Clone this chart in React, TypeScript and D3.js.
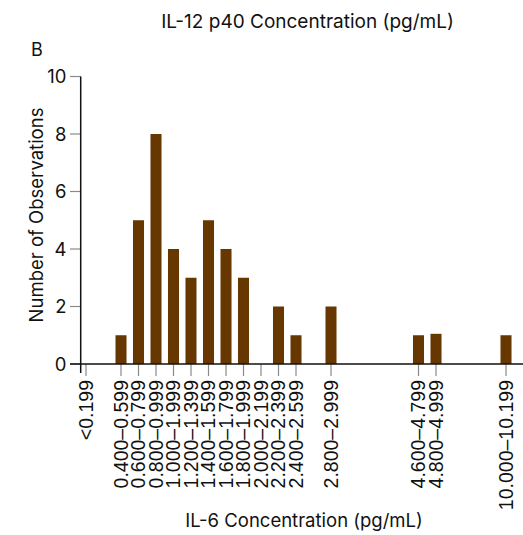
import React from 'react';
import * as d3 from 'd3';

// Bin slots along the x axis ('' = unlabelled spacer slot)
const categories: string[] = [
  '<0.199', '', '0.400–0.599', '0.600–0.799', '0.800–0.999', '1.000–1.999',
  '1.200–1.399', '1.400–1.599', '1.600–1.799', '1.800–1.999', '2.000–2.199',
  '2.200–2.399', '2.400–2.599', '', '2.800–2.999', '', '', '', '',
  '4.600–4.799', '4.800–4.999', '', '', '', '10.000–10.199',
];
const counts: number[] = [
  0, 0, 1, 5, 8, 4,
  3, 5, 4, 3, 0,
  2, 1, 0, 2, 0, 0, 0, 0,
  1, 1.05, 0, 0, 0, 1,
];
const yTicks: number[] = [0, 2, 4, 6, 8, 10];

const title = 'IL-12 p40 Concentration (pg/mL)';
const panel = 'B';
const xTitle = 'IL-6 Concentration (pg/mL)';
const yTitle = 'Number of Observations';

export default function App() {
  const W = 523, H = 535;
  const keys = categories.map((_, i) => String(i));
  const x = d3.scaleBand<string>().domain(keys).range([77.25, 514.75])
    .paddingInner(0.37).paddingOuter(0.185);
  const y = d3.scaleLinear().domain([0, 10]).range([364, 76.5]);
  const axisX = 80.7;
  const sans = 'Inter, "Noto Sans", sans-serif';
  const tickFont = '"Liberation Sans", Arial, sans-serif';
  const barColor = '#663800';
  const tickColor = '#8a8a8a';

  return (
    <svg width={W} height={H} style={{ position: 'absolute', left: 0, top: 0 }}
      fontFamily={sans}>
      <rect width={W} height={H} fill="#fff" />
      <text x={307.5} y={28} textAnchor="middle" fontSize={19} fill="#111">{title}</text>
      <text x={31} y={55.5} fontSize={18} fill="#111">{panel}</text>

      {/* bars */}
      {counts.map((c, i) => c > 0 ? (
        <rect key={i} x={x(keys[i])} y={y(c)} width={x.bandwidth()}
          height={y(0) - y(c)} fill={barColor} />
      ) : null)}

      {/* y axis */}
      {yTicks.map(t => (
        <g key={t}>
          <line x1={70} x2={axisX} y1={y(t)} y2={y(t)} stroke={tickColor} strokeWidth={1.2} />
          <text x={66.5} y={y(t)} dy="0.36em" textAnchor="end" fontSize={18.5} fill="#111">{t}</text>
        </g>
      ))}
      <line x1={axisX} x2={axisX} y1={y(10)} y2={373} stroke="#111" strokeWidth={1.5} />

      {/* x axis */}
      {categories.map((c, i) => c ? (
        <g key={i} transform={`translate(${(x(keys[i]) as number) + x.bandwidth() / 2},0)`}>
          <line x1={0} x2={0} y1={364} y2={376} stroke={tickColor} strokeWidth={1.2} />
          <text transform="translate(0,380) rotate(-90)" dy="0.35em" textAnchor="end"
            fontSize={19.5} fontFamily={tickFont} fill="#111">{c}</text>
        </g>
      ) : null)}
      <line x1={70} x2={W} y1={y(0)} y2={y(0)} stroke="#111" strokeWidth={1.5} />

      <text x={304} y={527} textAnchor="middle" fontSize={18.5} fill="#111">{xTitle}</text>
      <text transform="translate(42.5,215) rotate(-90)" textAnchor="middle" fontSize={18.5}
        fill="#111">{yTitle}</text>
    </svg>
  );
}
